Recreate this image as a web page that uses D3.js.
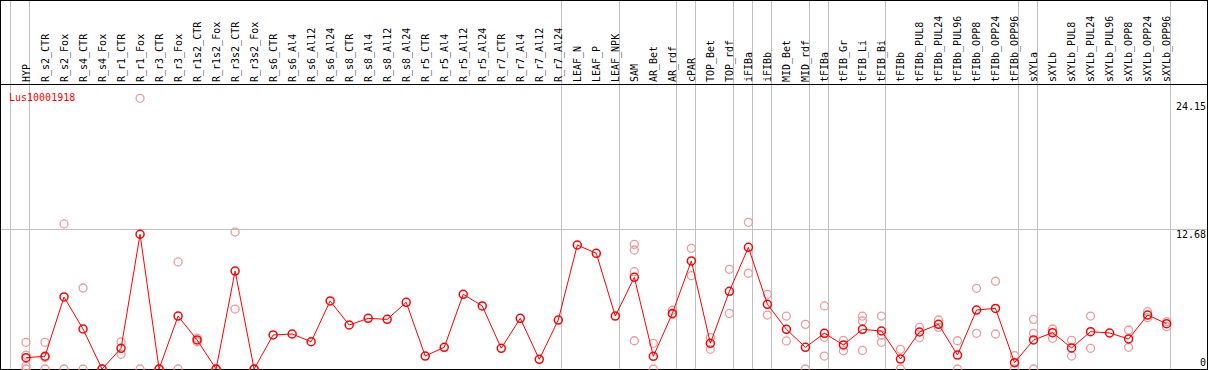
<!DOCTYPE html>
<html>
<head>
<meta charset="utf-8">
<title>Lus10001918</title>
<style>
  body { margin: 0; background: white; }
  svg { display: block; }
  text { font-family: "DejaVu Sans Mono", monospace; font-size: 10px; }
  .grid { stroke: #c0c0c0; stroke-width: 1; shape-rendering: crispEdges; }
  .frame { stroke: black; stroke-width: 1; fill: none; shape-rendering: crispEdges; }
</style>
</head>
<body>
<svg id="chart"></svg>
<script src="https://d3js.org/d3.v7.min.js"></script>
<script>
var gene = "Lus10001918";

var samples = ["HYP", "R_s2_CTR", "R_s2_Fox", "R_s4_CTR", "R_s4_Fox", "R_r1_CTR", "R_r1_Fox",
  "R_r3_CTR", "R_r3_Fox", "R_r1s2_CTR", "R_r1s2_Fox", "R_r3s2_CTR", "R_r3s2_Fox",
  "R_s6_CTR", "R_s6_Al4", "R_s6_Al12", "R_s6_Al24", "R_s8_CTR", "R_s8_Al4", "R_s8_Al12", "R_s8_Al24",
  "R_r5_CTR", "R_r5_Al4", "R_r5_Al12", "R_r5_Al24", "R_r7_CTR", "R_r7_Al4", "R_r7_Al12", "R_r7_Al24",
  "LEAF_N", "LEAF_P", "LEAF_NPK", "SAM", "AR_Bet", "AR_rdf", "cPAR", "TOP_Bet", "TOP_rdf",
  "iFIBa", "iFIBb", "MID_Bet", "MID_rdf", "tFIBa", "tFIB_Gr", "tFIB_Li", "tFIB_Bi",
  "tFIBb", "tFIBb_PUL8", "tFIBb_PUL24", "tFIBb_PUL96", "tFIBb_OPP8", "tFIBb_OPP24", "tFIBb_OPP96",
  "sXYLa", "sXYLb", "sXYLb_PUL8", "sXYLb_PUL24", "sXYLb_PUL96", "sXYLb_OPP8", "sXYLb_OPP24", "sXYLb_OPP96"];

var means = [1.02, 1.15, 6.5, 3.61, 0, 1.87, 12.16, 0, 4.78, 2.62, 0, 8.84, 0,
  3.07, 3.16, 2.46, 6.14, 3.97, 4.57, 4.48, 6.02,
  1.17, 1.96, 6.74, 5.69, 1.87, 4.57, 0.87, 4.42,
  11.19, 10.44, 4.78, 8.27, 1.14, 5.02, 9.75, 2.32, 7.01,
  10.98, 5.84, 3.58, 1.96, 3.22, 2.17, 3.58, 3.43,
  0.9, 3.34, 4.03, 1.26, 5.32, 5.47, 0.57,
  2.62, 3.28, 1.9, 3.37, 3.25, 2.71, 4.87, 4.09];

var replicates = [[2.41, 1.26, 0.27, 0], [2.41, 1.04, 0], [13.09, 0], [7.31, 0], [0, 0], [2.44, 1.33],
  [24.43, 0], [0, 0], [9.66, 0], [2.78, 2.46], [0, 0], [12.36, 5.41], [0, 0],
  [], [], [], [], [], [], [], [],
  [], [], [], [], [], [], [], [],
  [], [], [], [11.25, 10.74, 8.78, 2.55], [2.32, 0], [5.3, 4.94], [10.89, 8.42], [2.83, 1.78], [9.0, 5.02],
  [13.24, 8.64], [6.74, 4.87], [4.78, 2.53], [4.03, 0], [5.69, 2.86, 1.17], [2.59, 1.65], [4.78, 4.33, 1.68], [4.78, 3.07, 2.41],
  [1.78, 0], [3.76, 2.83], [4.42, 3.76], [2.55, 0], [7.28, 3.22], [7.92, 3.16], [1.2, 0],
  [4.48, 3.22, 0], [3.61, 2.77], [2.59, 1.17], [4.78, 1.87], [], [3.52, 1.96], [5.17, 4.63], [4.27, 3.82]];

// indices where a new sample group starts (gray separators)
var groupBreaks = [0, 1, 29, 32, 35, 36, 38, 39, 40, 42, 43, 46, 53, 54, 61];
var axisTicks = [0, 12.68, 24.15];

var W = 1209, H = 370, headerY = 84;

var svg = d3.select("#chart").attr("width", W).attr("height", H);

var x = d3.scaleLinear().domain([0, samples.length - 1]).range([26, 1166.6]);
var y = d3.scaleLinear().domain([0, 12.68]).range([369, 228.5]);

// separators
svg.selectAll(".sep").data(groupBreaks)
  .enter().append("line")
  .attr("class", "grid")
  .attr("x1", d => Math.floor(x(d) - 15.3) + 0.5)
  .attr("x2", d => Math.floor(x(d) - 15.3) + 0.5)
  .attr("y1", 0).attr("y2", H);

// mid gridline
svg.append("line")
  .attr("class", "grid")
  .attr("x1", 0).attr("x2", 1207)
  .attr("y1", Math.round(y(12.68)) + 0.5).attr("y2", Math.round(y(12.68)) + 0.5);

// frame + header rule
svg.append("rect").attr("class", "frame")
  .attr("x", 0.5).attr("y", 0.5).attr("width", 1207).attr("height", 369);
svg.append("line").attr("class", "frame")
  .attr("x1", 0).attr("x2", 1208).attr("y1", headerY + 0.5).attr("y2", headerY + 0.5);

// sample labels (rotated)
svg.selectAll(".lab").data(samples)
  .enter().append("text")
  .attr("class", "lab")
  .attr("transform", (d, i) => `translate(${x(i)}, 82) rotate(-90)`)
  .attr("dy", "0.35em")
  .attr("fill", "black")
  .text(d => d);

// replicate points
var repPts = [];
replicates.forEach((r, i) => r.forEach(v => repPts.push({i: i, v: v})));

svg.selectAll(".rep").data(repPts)
  .enter().append("circle")
  .attr("class", "rep")
  .attr("cx", d => x(d.i))
  .attr("cy", d => y(d.v))
  .attr("r", 4)
  .attr("fill", "none")
  .attr("stroke", "#ec9a9a")
  .attr("stroke-width", 1.3);

// mean line
var line = d3.line().x((d, i) => x(i)).y(d => y(d));
svg.append("path")
  .datum(means)
  .attr("d", line)
  .attr("fill", "none")
  .attr("stroke", "red")
  .attr("stroke-width", 1);

svg.selectAll(".mean").data(means)
  .enter().append("circle")
  .attr("class", "mean")
  .attr("cx", (d, i) => x(i))
  .attr("cy", d => y(d))
  .attr("r", 4)
  .attr("fill", "none")
  .attr("stroke", "red")
  .attr("stroke-width", 1.5);

// value labels on the right
svg.selectAll(".tick").data(axisTicks)
  .enter().append("text")
  .attr("class", "tick")
  .attr("x", 1206)
  .attr("y", d => d === 0 ? y(d) - 3 : y(d) + 9)
  .attr("text-anchor", "end")
  .attr("fill", "black")
  .text(d => d);

svg.append("text")
  .attr("x", 9)
  .attr("y", 100.5)
  .attr("fill", "red")
  .text(gene);
</script>
</body>
</html>
